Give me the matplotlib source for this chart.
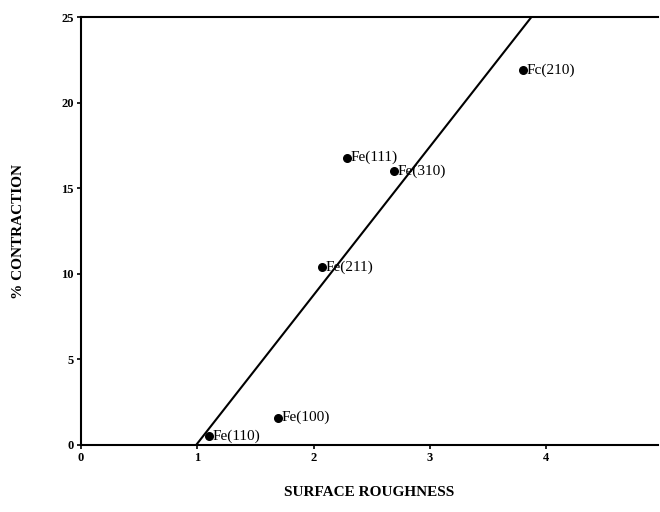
import matplotlib
matplotlib.use("Agg")
import matplotlib.pyplot as plt

# surface roughness vs % contraction for iron faces
faces = ["Fe(110)", "Fe(100)", "Fe(211)", "Fe(111)", "Fe(310)", "Fc(210)"]
roughness = [1.10, 1.69, 2.07, 2.29, 2.69, 3.80]
contraction = [0.5, 1.6, 10.4, 16.8, 16.0, 21.9]

# fitted straight line end points
fit_x = [0.99, 3.87]
fit_y = [0.0, 25.0]

x_ticks = [0, 1, 2, 3, 4]
y_ticks = [0, 5, 10, 15, 20, 25]

plt.rcParams["font.family"] = ["Liberation Serif", "DejaVu Serif"]

fig = plt.figure(figsize=(6.6, 5.12), dpi=100)
ax = fig.add_axes([0.1227, 0.1309, 0.8743, 0.8353])

ax.plot(fit_x, fit_y, color="black", linewidth=1.5, solid_capstyle="butt")
ax.scatter(roughness, contraction, s=30, color="black", zorder=3)
for name, x, y in zip(faces, roughness, contraction):
    ax.annotate(name, (x, y), xytext=(2.5, 0), textcoords="offset points",
                va="center", ha="left", fontsize=11)

ax.set_xlim(0, 4.96)
ax.set_ylim(0, 25)
ax.set_xticks(x_ticks)
ax.set_yticks(y_ticks)
ax.tick_params(direction="out", length=3, width=1.2, labelsize=9, pad=2)
for lab in ax.get_xticklabels() + ax.get_yticklabels():
    lab.set_fontweight("bold")

ax.spines["right"].set_visible(False)
for side in ["left", "bottom", "top"]:
    ax.spines[side].set_linewidth(1.5)

ax.set_xlabel("SURFACE ROUGHNESS", fontsize=11, fontweight="bold", va="center")
ax.set_ylabel("% CONTRACTION", fontsize=11, fontweight="bold", va="center")
ax.xaxis.set_label_coords(0.5, -0.11)
ax.yaxis.set_label_coords(-0.109, 0.5)

fig.savefig("out.png", dpi=100)
